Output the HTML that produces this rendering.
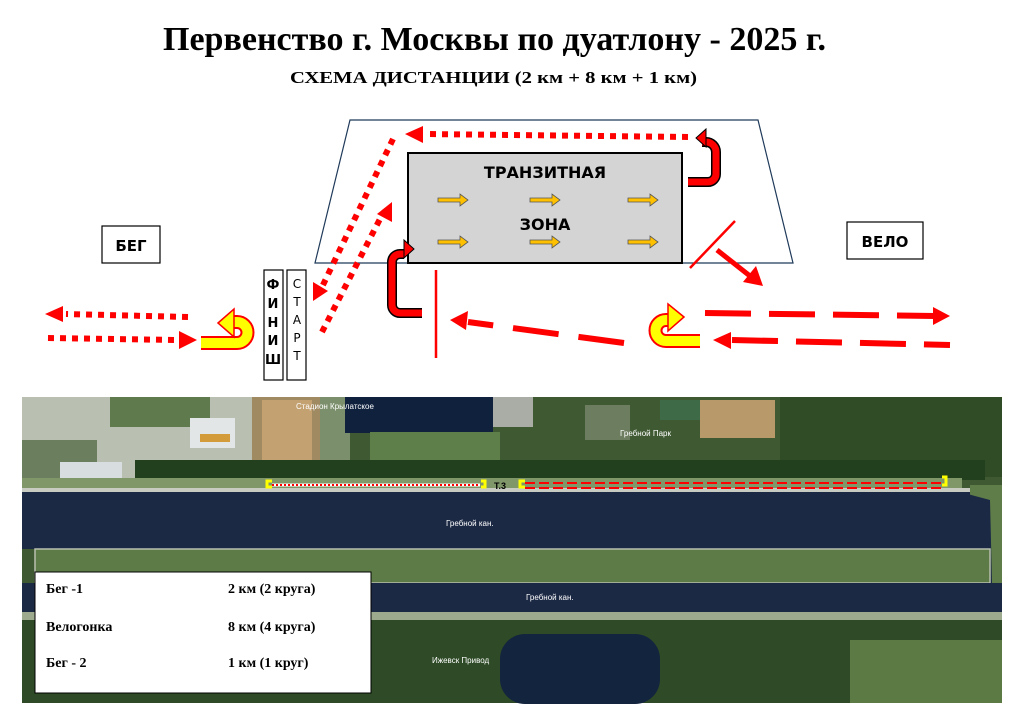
<!DOCTYPE html>
<html><head><meta charset="utf-8"><style>
body{margin:0;background:#fff;width:1020px;height:717px;overflow:hidden}
svg{display:block}
</style></head><body>
<svg width="1020" height="717" viewBox="0 0 1020 717" xmlns="http://www.w3.org/2000/svg">
<text x="163" y="50" textLength="663" lengthAdjust="spacingAndGlyphs" font-family="Liberation Serif" font-weight="bold" font-size="34">Первенство г. Москвы по дуатлону - 2025 г.</text>
<text x="290" y="83" textLength="407" lengthAdjust="spacingAndGlyphs" font-family="Liberation Serif" font-weight="bold" font-size="17">СХЕМА ДИСТАНЦИИ (2 км + 8 км + 1 км)</text>

<polygon points="350,120 758,120 793,263 315,263" fill="#fff" stroke="#1f3a5a" stroke-width="1.2"/>
<rect x="408" y="153" width="274" height="110" fill="#d4d4d4" stroke="#000" stroke-width="2"/>
<text x="545" y="178" text-anchor="middle" font-family="DejaVu Sans" font-weight="bold" font-size="16">ТРАНЗИТНАЯ</text>
<text x="545" y="230" text-anchor="middle" font-family="DejaVu Sans" font-weight="bold" font-size="16">ЗОНА</text>
<g fill="#ffc000" stroke="#555" stroke-width="0.8">
<path id="oa" d="M438,198 h22 v-4 l8,6 l-8,6 v-4 h-22z"/>
<use href="#oa" x="92"/><use href="#oa" x="190"/>
<use href="#oa" y="42"/><use href="#oa" x="92" y="42"/><use href="#oa" x="190" y="42"/>
</g>

<rect x="102" y="226" width="58" height="37" fill="#fff" stroke="#000" stroke-width="1.2"/>
<text x="131" y="251" text-anchor="middle" font-family="DejaVu Sans" font-weight="bold" font-size="15">БЕГ</text>
<rect x="847" y="222" width="76" height="37" fill="#fff" stroke="#000" stroke-width="1.2"/>
<text x="885" y="247" text-anchor="middle" font-family="DejaVu Sans" font-weight="bold" font-size="15">ВЕЛО</text>

<rect x="264" y="270" width="19" height="110" fill="#fff" stroke="#000" stroke-width="1.2"/>
<rect x="287" y="270" width="19" height="110" fill="#fff" stroke="#000" stroke-width="1.2"/>
<g font-family="DejaVu Sans" font-weight="bold" font-size="13" text-anchor="middle">
<text x="273" y="289">Ф</text><text x="273" y="308">И</text><text x="273" y="327">Н</text><text x="273" y="345">И</text><text x="273" y="364">Ш</text></g>
<g font-family="DejaVu Sans" font-size="12" text-anchor="middle">
<text x="297" y="288">С</text><text x="297" y="306">Т</text><text x="297" y="324">А</text><text x="297" y="342">Р</text><text x="297" y="360">Т</text></g>

<g stroke="#f00" stroke-width="6" stroke-dasharray="6,6" fill="none">
<line x1="188" y1="317" x2="66" y2="314"/>
<line x1="48" y1="338" x2="178" y2="340"/>
<line x1="393" y1="139" x2="322" y2="287"/>
<line x1="322" y1="332" x2="382" y2="215"/>
<line x1="688" y1="137" x2="425" y2="134"/>
</g>
<g fill="#f00">
<polygon points="45,314 63,306 63,322"/>
<polygon points="197,340 179,331 179,349"/>
<polygon points="313,301 313,282 328,291"/>
<polygon points="392,202 392,222 377,214"/>
<polygon points="405,134 423,126 423,143"/>
</g>

<g>
<path d="M201,343 H237 A10,10 0 0 0 237,322 L232,322" fill="none" stroke="#f00" stroke-width="14"/>
<path d="M201,343 H237 A10,10 0 0 0 237,322 L232,322" fill="none" stroke="#ff0" stroke-width="10"/>
<polygon points="218,323 234,309 234,337" fill="#ff0" stroke="#f00" stroke-width="1.5"/>
<path d="M700,341 H666 A10,10 0 0 1 666,320 L672,320" fill="none" stroke="#f00" stroke-width="14"/>
<path d="M700,341 H666 A10,10 0 0 1 666,320 L672,320" fill="none" stroke="#ff0" stroke-width="10"/>
<polygon points="684,317 668,304 668,331" fill="#ff0" stroke="#f00" stroke-width="1.5"/>
</g>

<path d="M688,182 H708 A8,8 0 0 0 716,174 V152 A10,10 0 0 0 706,142 H702" fill="none" stroke="#000" stroke-width="10"/>
<path d="M688,182 H708 A8,8 0 0 0 716,174 V152 A10,10 0 0 0 706,142 H702" fill="none" stroke="#f00" stroke-width="7"/>
<polygon points="696,138 706,129 706,147" fill="#f00" stroke="#000" stroke-width="1"/>
<path d="M422,313 H400 A8,8 0 0 1 392,305 V262 A8,8 0 0 1 400,254 H404" fill="none" stroke="#000" stroke-width="10"/>
<path d="M422,313 H400 A8,8 0 0 1 392,305 V262 A8,8 0 0 1 400,254 H404" fill="none" stroke="#f00" stroke-width="7"/>
<polygon points="414,249 404,240 404,258" fill="#f00" stroke="#000" stroke-width="1"/>

<line x1="436" y1="270" x2="436" y2="358" stroke="#f00" stroke-width="2.5"/>
<line x1="690" y1="268" x2="735" y2="221" stroke="#f00" stroke-width="2.5"/>
<line x1="717" y1="250" x2="750" y2="276" stroke="#f00" stroke-width="5"/>
<polygon points="763,286 743,282 756,266" fill="#f00"/>

<g stroke="#f00" stroke-width="6" fill="none">
<line x1="624" y1="343" x2="468" y2="322" stroke-dasharray="46,20"/>
<line x1="705" y1="313" x2="935" y2="316" stroke-dasharray="46,18"/>
<line x1="732" y1="340" x2="950" y2="345" stroke-dasharray="46,18"/>
</g>
<g fill="#f00">
<polygon points="450,320 468,311 466,330"/>
<polygon points="950,316 933,307 933,325"/>
<polygon points="713,340 731,332 731,349"/>
</g>

<!-- MAP -->
<rect x="22" y="397" width="980" height="306" fill="#3f5a33"/>
<rect x="22" y="397" width="230" height="95" fill="#b9c0b2"/>
<rect x="22" y="440" width="75" height="50" fill="#6b7f5e"/>
<rect x="60" y="462" width="62" height="25" fill="#d8dde0"/>
<rect x="110" y="397" width="100" height="30" fill="#5f7a4c"/>
<rect x="190" y="418" width="45" height="30" fill="#e3e6e6"/>
<rect x="200" y="434" width="30" height="8" fill="#d39b3a"/>
<rect x="252" y="397" width="70" height="65" fill="#a08a62"/>
<rect x="262" y="400" width="50" height="60" fill="#c3a171"/>
<rect x="320" y="397" width="30" height="65" fill="#7c8f6c"/>
<rect x="345" y="397" width="148" height="36" fill="#10213e"/>
<rect x="370" y="432" width="130" height="30" fill="#5f7f4a"/>
<rect x="493" y="397" width="40" height="30" fill="#a9ada5"/>
<rect x="585" y="405" width="45" height="35" fill="#6d7e60"/>
<rect x="660" y="400" width="40" height="20" fill="#3f6a48"/>
<rect x="700" y="400" width="75" height="38" fill="#b89a6a"/>
<rect x="780" y="397" width="222" height="80" fill="#2f4c26"/>
<rect x="135" y="460" width="850" height="20" fill="#22401e"/>
<rect x="22" y="478" width="940" height="12" fill="#80976a"/>
<rect x="22" y="488" width="960" height="4" fill="#c8cbc2"/>
<rect x="22" y="492" width="970" height="57" fill="#1c2945"/>
<rect x="970" y="485" width="32" height="100" fill="#5f7d48"/>
<polygon points="960,492 990,500 992,583 960,583" fill="#1c2945"/>
<rect x="35" y="549" width="955" height="34" fill="#5c7b46" stroke="#b8bfae" stroke-width="1.5"/>
<rect x="22" y="583" width="980" height="30" fill="#1c2945"/>
<rect x="22" y="612" width="980" height="8" fill="#9eaa8e"/>
<rect x="22" y="620" width="980" height="83" fill="#2e4a26"/>
<rect x="500" y="634" width="160" height="70" rx="25" fill="#13243f"/>
<rect x="850" y="640" width="152" height="63" fill="#5c7a44"/>
<g font-family="Liberation Sans" font-size="8" fill="#fff">
<text x="296" y="409">Стадион Крылатское</text>
<text x="446" y="526">Гребной кан.</text>
<text x="526" y="600">Гребной кан.</text>
<text x="620" y="436">Гребной Парк</text>
<text x="432" y="663">Ижевск Привод</text>
</g>
<line x1="272" y1="485" x2="480" y2="485" stroke="#fff" stroke-width="3"/>
<line x1="272" y1="485" x2="480" y2="485" stroke="#f00" stroke-width="2" stroke-dasharray="2,2"/>
<line x1="525" y1="483" x2="942" y2="483" stroke="#f00" stroke-width="2" stroke-dasharray="10,4"/>
<line x1="525" y1="488" x2="942" y2="488" stroke="#f00" stroke-width="2" stroke-dasharray="10,4"/>
<g fill="none" stroke-width="3">
<path d="M272,481 h-5 v6 h5" stroke="#ff0"/><path d="M481,481 h4 v6 h-4" stroke="#ff0"/>
<path d="M525,481 h-5 v6 h5" stroke="#ff0"/><path d="M942,477 h4 v8 h-4" stroke="#ff0"/>
</g>
<text x="494" y="489" font-family="Liberation Sans" font-weight="bold" font-size="9" fill="#000">Т.3</text>
<rect x="35" y="572" width="336" height="121" fill="#fff" stroke="#000" stroke-width="1"/>
<g font-family="Liberation Serif" font-weight="bold" font-size="14">
<text x="46" y="593">Бег -1</text><text x="228" y="593">2 км (2 круга)</text>
<text x="46" y="631">Велогонка</text><text x="228" y="631">8 км (4 круга)</text>
<text x="46" y="667">Бег - 2</text><text x="228" y="667">1 км (1 круг)</text>
</g>
</svg>
</body></html>
